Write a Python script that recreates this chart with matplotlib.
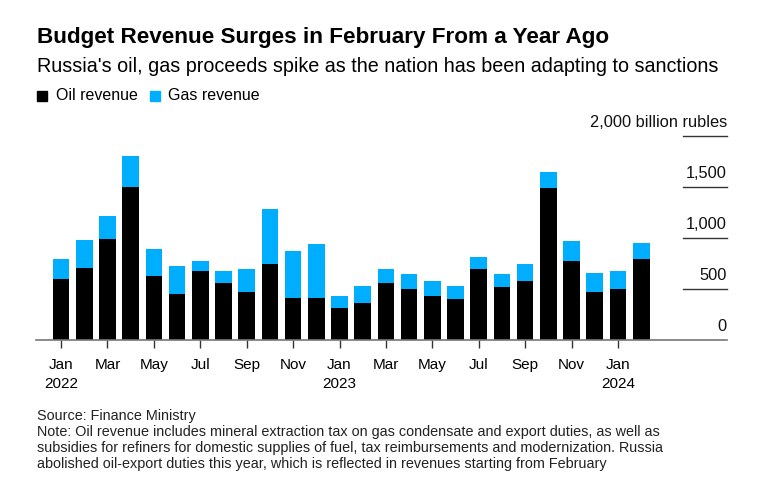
import numpy as np
import matplotlib
matplotlib.use('Agg')
import matplotlib.pyplot as plt
from matplotlib.patches import Rectangle

plt.rcParams['font.family'] = ['Liberation Sans', 'DejaVu Sans']

# monthly budget revenue, billion rubles, Jan 2022 .. Feb 2024
months = ['Jan', 'Feb', 'Mar', 'Apr', 'May', 'Jun', 'Jul', 'Aug', 'Sep', 'Oct', 'Nov', 'Dec'] * 2 + ['Jan', 'Feb']
years = [2022] * 12 + [2023] * 12 + [2024] * 2
oil = [599, 703, 986, 1502, 624, 447, 677, 559, 473, 743, 414, 414,
       309, 362, 555, 500, 427, 404, 693, 516, 575, 1492, 772, 466, 503, 799]
total = [799, 979, 1216, 1808, 894, 723, 776, 677, 693, 1289, 871, 937,
         434, 526, 693, 651, 575, 532, 815, 644, 746, 1647, 966, 654, 677, 953]
gas = [t - o for t, o in zip(total, oil)]
yticks = [0, 500, 1000, 1500, 2000]
ylabels = ['0', '500', '1,000', '1,500', '2,000 billion rubles']

OIL_C = '#000000'
GAS_C = '#00aeff'

W, H = 764, 496
fig = plt.figure(figsize=(W / 100, H / 100), dpi=100)
ax = fig.add_axes([36 / W, 1 - 340 / H, (727 - 36) / W, (340 - 136) / H])

x = np.arange(len(oil))
ax.bar(x, oil, width=0.72, color=OIL_C, linewidth=0)
ax.bar(x, gas, bottom=oil, width=0.72, color=GAS_C, linewidth=0)

ax.set_xlim(-1.08, 28.7)
ax.set_ylim(0, 2000)
for s in ['top', 'right', 'left']:
    ax.spines[s].set_visible(False)
ax.spines['bottom'].set_color('#777777')
ax.spines['bottom'].set_linewidth(1.2)
ax.set_yticks([])

tick_pos = x[::2]
tick_lab = []
for i in tick_pos:
    lab = months[i]
    if months[i] == 'Jan':
        lab += '\n' + str(years[i])
    tick_lab.append(lab)
ax.set_xticks(tick_pos)
ax.set_xticklabels(tick_lab, fontsize=11, linespacing=1.45, va='top')
ax.tick_params(axis='x', length=6, width=1, color='#333333', pad=7)

# short gridlines + labels at right
g0 = (683 - 36) / (727 - 36)
for v, lab in zip(yticks, ylabels):
    if v > 0:
        ax.plot([g0, 1.0], [v, v], color='#333333', lw=1, transform=ax.get_yaxis_transform(),
                clip_on=False)
    ax.text(1.0, v + 60, lab, transform=ax.get_yaxis_transform(), ha='right', va='bottom',
            fontsize=11.8, color='#111111')

fig.text(37 / W, 1 - 37 / H, 'Budget Revenue Surges in February From a Year Ago',
         fontsize=16.2, fontweight='bold', va='center', ha='left')
fig.text(37 / W, 1 - 67 / H, "Russia's oil, gas proceeds spike as the nation has been adapting to sanctions",
         fontsize=14.2, va='center', ha='left')

# legend
fig.patches.append(Rectangle((37 / W, 1 - 101 / H), 10 / W, 10 / H, color=OIL_C,
                             transform=fig.transFigure, figure=fig))
fig.text(56 / W, 1 - 96 / H, 'Oil revenue', fontsize=11.5, va='center', ha='left')
fig.patches.append(Rectangle((150 / W, 1 - 101 / H), 10 / W, 10 / H, color=GAS_C,
                             transform=fig.transFigure, figure=fig))
fig.text(168 / W, 1 - 96 / H, 'Gas revenue', fontsize=11.5, va='center', ha='left')

notes = ("Source: Finance Ministry\n"
         "Note: Oil revenue includes mineral extraction tax on gas condensate and export duties, as well as\n"
         "subsidies for refiners for domestic supplies of fuel, tax reimbursements and modernization. Russia\n"
         "abolished oil-export duties this year, which is reflected in revenues starting from February")
fig.text(37 / W, 1 - 409 / H, notes, fontsize=10.4, va='top', ha='left', linespacing=1.17, color='#222222')

fig.savefig('out.png', dpi=100)
